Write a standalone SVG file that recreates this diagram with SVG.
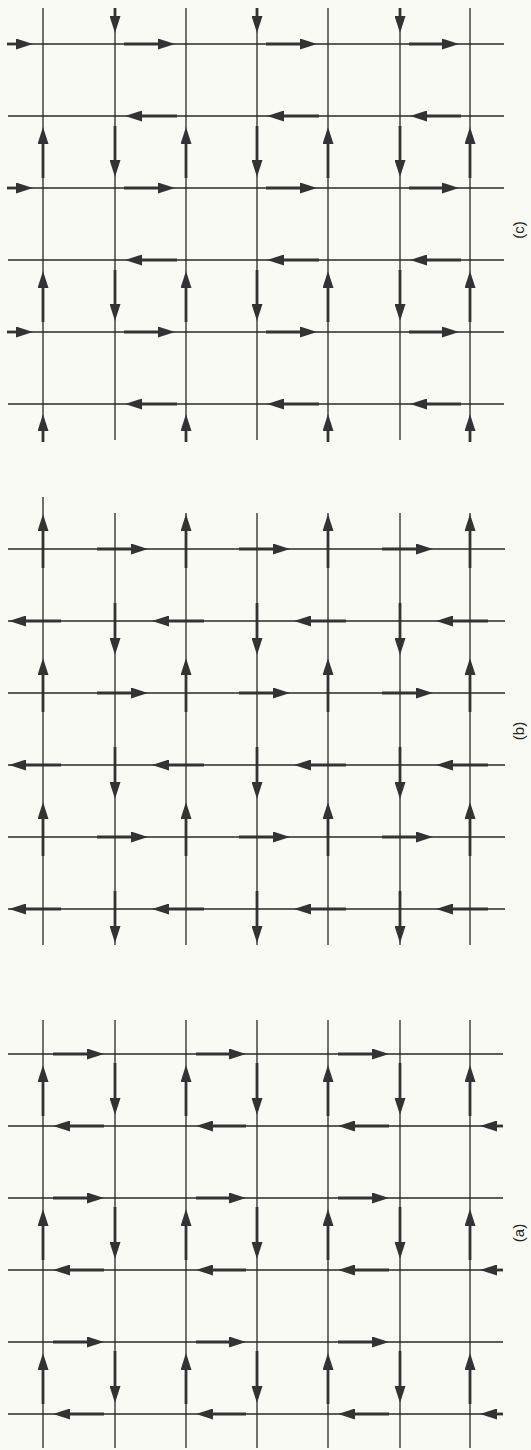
<svg xmlns="http://www.w3.org/2000/svg" width="531" height="1450" viewBox="0 0 531 1450">
<style>
.g{stroke:#2a2a2a;stroke-width:1.3;fill:none}
.a{stroke:#333;stroke-width:2.8;fill:none;marker-end:url(#ah)}
.lbl{font-family:"Liberation Sans",Arial,sans-serif;font-size:15px;fill:#222}
</style>
<defs>
<marker id="ah" markerUnits="userSpaceOnUse" markerWidth="17" markerHeight="11" viewBox="0 0 17 11" refX="0" refY="5.5" orient="auto">
<path d="M0,0 L17,5.5 L0,11 z" fill="#333"/>
</marker>
</defs>
<rect width="531" height="1450" fill="#fafaf5"/>

<g id="grid-c">
<path class="g" d="M43,8V440M115,8V440M186,8V440M257,8V440M328,8V440M400,8V440M470,8V440"/>
<path class="g" d="M8,44H504M8,116H504M8,188H504M8,260H504M8,332H504M8,404H504"/>
</g>
<g id="arrows-c">
<path class="a" d="M7,44H16"/><path class="a" d="M124,44H158"/><path class="a" d="M266,44H300"/><path class="a" d="M409,44H442"/>
<path class="a" d="M7,188H16"/><path class="a" d="M124,188H158"/><path class="a" d="M266,188H300"/><path class="a" d="M409,188H442"/>
<path class="a" d="M7,332H16"/><path class="a" d="M124,332H158"/><path class="a" d="M266,332H300"/><path class="a" d="M409,332H442"/>
<path class="a" d="M177,116H142"/><path class="a" d="M319,116H284"/><path class="a" d="M461,116H427"/>
<path class="a" d="M177,260H142"/><path class="a" d="M319,260H284"/><path class="a" d="M461,260H427"/>
<path class="a" d="M177,404H142"/><path class="a" d="M319,404H284"/><path class="a" d="M461,404H427"/>
<path class="a" d="M43,178V144"/><path class="a" d="M43,322V288"/><path class="a" d="M43,442V431"/>
<path class="a" d="M186,178V144"/><path class="a" d="M186,322V288"/><path class="a" d="M186,442V431"/>
<path class="a" d="M328,178V144"/><path class="a" d="M328,322V288"/><path class="a" d="M328,442V431"/>
<path class="a" d="M470,178V144"/><path class="a" d="M470,322V288"/><path class="a" d="M470,442V431"/>
<path class="a" d="M115,8V16"/><path class="a" d="M115,126V160"/><path class="a" d="M115,270V304"/>
<path class="a" d="M257,8V16"/><path class="a" d="M257,126V160"/><path class="a" d="M257,270V304"/>
<path class="a" d="M400,8V16"/><path class="a" d="M400,126V160"/><path class="a" d="M400,270V304"/>
</g>
<text id="label-c" class="lbl" text-anchor="middle" transform="translate(524,230) rotate(-90)">(c)</text>

<g id="grid-b">
<path class="g" d="M43,497V945M115,513V945M186,513V945M257,513V945M328,513V945M400,513V945M470,513V945"/>
<path class="g" d="M8,549H505M8,621H505M8,693H505M8,765H505M8,837H505M8,909H505"/>
</g>
<g id="arrows-b">
<path class="a" d="M97,549H131"/><path class="a" d="M239,549H273"/><path class="a" d="M382,549H416"/>
<path class="a" d="M97,693H131"/><path class="a" d="M239,693H273"/><path class="a" d="M382,693H416"/>
<path class="a" d="M97,837H131"/><path class="a" d="M239,837H273"/><path class="a" d="M382,837H416"/>
<path class="a" d="M61,621H26"/><path class="a" d="M204,621H169"/><path class="a" d="M346,621H311"/><path class="a" d="M488,621H453"/>
<path class="a" d="M61,765H26"/><path class="a" d="M204,765H169"/><path class="a" d="M346,765H311"/><path class="a" d="M488,765H453"/>
<path class="a" d="M61,909H26"/><path class="a" d="M204,909H169"/><path class="a" d="M346,909H311"/><path class="a" d="M488,909H453"/>
<path class="a" d="M43,568V531"/><path class="a" d="M43,712V675"/><path class="a" d="M43,856V819"/>
<path class="a" d="M186,568V531"/><path class="a" d="M186,712V675"/><path class="a" d="M186,856V819"/>
<path class="a" d="M328,568V531"/><path class="a" d="M328,712V675"/><path class="a" d="M328,856V819"/>
<path class="a" d="M470,568V531"/><path class="a" d="M470,712V675"/><path class="a" d="M470,856V819"/>
<path class="a" d="M115,603V638"/><path class="a" d="M115,747V782"/><path class="a" d="M115,891V926"/>
<path class="a" d="M257,603V638"/><path class="a" d="M257,747V782"/><path class="a" d="M257,891V926"/>
<path class="a" d="M400,603V638"/><path class="a" d="M400,747V782"/><path class="a" d="M400,891V926"/>
</g>
<text id="label-b" class="lbl" text-anchor="middle" transform="translate(524,731) rotate(-90)">(b)</text>

<g id="grid-a">
<path class="g" d="M43,1020V1448M115,1020V1448M186,1020V1448M257,1020V1448M328,1020V1448M400,1020V1448M470,1020V1448"/>
<path class="g" d="M8,1054H503M8,1126H503M8,1198H503M8,1270H503M8,1342H503M8,1414H503"/>
</g>
<g id="arrows-a">
<path class="a" d="M53,1054H87"/><path class="a" d="M196,1054H229"/><path class="a" d="M338,1054H372"/>
<path class="a" d="M53,1198H87"/><path class="a" d="M196,1198H229"/><path class="a" d="M338,1198H372"/>
<path class="a" d="M53,1342H87"/><path class="a" d="M196,1342H229"/><path class="a" d="M338,1342H372"/>
<path class="a" d="M104,1126H70"/><path class="a" d="M246,1126H213"/><path class="a" d="M389,1126H355"/><path class="a" d="M503,1126H497"/>
<path class="a" d="M104,1270H70"/><path class="a" d="M246,1270H213"/><path class="a" d="M389,1270H355"/><path class="a" d="M503,1270H497"/>
<path class="a" d="M104,1414H70"/><path class="a" d="M246,1414H213"/><path class="a" d="M389,1414H355"/><path class="a" d="M503,1414H497"/>
<path class="a" d="M43,1116V1082"/><path class="a" d="M43,1260V1226"/><path class="a" d="M43,1404V1370"/>
<path class="a" d="M186,1116V1082"/><path class="a" d="M186,1260V1226"/><path class="a" d="M186,1404V1370"/>
<path class="a" d="M328,1116V1082"/><path class="a" d="M328,1260V1226"/><path class="a" d="M328,1404V1370"/>
<path class="a" d="M470,1116V1082"/><path class="a" d="M470,1260V1226"/><path class="a" d="M470,1404V1370"/>
<path class="a" d="M115,1063V1098"/><path class="a" d="M115,1207V1242"/><path class="a" d="M115,1351V1386"/>
<path class="a" d="M257,1063V1098"/><path class="a" d="M257,1207V1242"/><path class="a" d="M257,1351V1386"/>
<path class="a" d="M400,1063V1098"/><path class="a" d="M400,1207V1242"/><path class="a" d="M400,1351V1386"/>
</g>
<text id="label-a" class="lbl" text-anchor="middle" transform="translate(524,1233) rotate(-90)">(a)</text>
</svg>
